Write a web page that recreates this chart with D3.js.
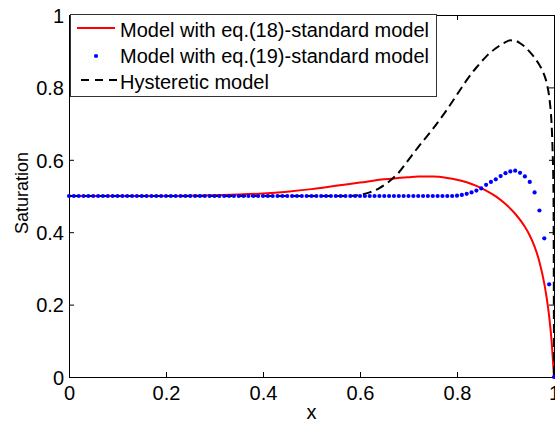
<!DOCTYPE html>
<html><head><meta charset="utf-8">
<script src="https://cdn.jsdelivr.net/npm/d3@7"></script>
<style>body{margin:0;background:#fff} svg{display:block} text{font-family:"Liberation Sans",Arial,sans-serif;fill:#000}</style>
</head><body><svg id="c" width="555" height="423"></svg>
<script>
const xTicks = [0, 0.2, 0.4, 0.6, 0.8, 1];
const yTicks = [0, 0.2, 0.4, 0.6, 0.8, 1];
const xTickLabels = ["0", "0.2", "0.4", "0.6", "0.8", "1"];
const yTickLabels = ["0", "0.2", "0.4", "0.6", "0.8", "1"];
const seriesNames = ["Model with eq.(18)-standard model", "Model with eq.(19)-standard model", "Hysteretic model"];
const xLabel = "x";
const yLabel = "Saturation";

// Model with eq.(18)-standard model (red solid)
const redX = [0, 0.1, 0.2, 0.3, 0.35, 0.4, 0.45, 0.5, 0.55, 0.6, 0.65, 0.7, 0.72, 0.75, 0.78, 0.8, 0.82, 0.84, 0.86, 0.88, 0.9, 0.92, 0.94, 0.95, 0.96, 0.97, 0.98, 0.985, 0.99, 0.995, 1];
const redY = [0.5, 0.5, 0.5, 0.502, 0.504, 0.507, 0.512, 0.519, 0.528, 0.537, 0.546, 0.552, 0.554, 0.554, 0.55, 0.545, 0.538, 0.528, 0.515, 0.499, 0.478, 0.451, 0.415, 0.391, 0.36, 0.318, 0.258, 0.218, 0.168, 0.1, 0];

// Model with eq.(19)-standard model (blue dots)
const blueX = [0,0.01,0.02,0.03,0.04,0.05,0.06,0.07,0.08,0.09,0.1,0.11,0.12,0.13,0.14,0.15,0.16,0.17,0.18,0.19,0.2,0.21,0.22,0.23,0.24,0.25,0.26,0.27,0.28,0.29,0.3,0.31,0.32,0.33,0.34,0.35,0.36,0.37,0.38,0.39,0.4,0.41,0.42,0.43,0.44,0.45,0.46,0.47,0.48,0.49,0.5,0.51,0.52,0.53,0.54,0.55,0.56,0.57,0.58,0.59,0.6,0.61,0.62,0.63,0.64,0.65,0.66,0.67,0.68,0.69,0.7,0.71,0.72,0.73,0.74,0.75,0.76,0.77,0.78,0.79,0.8,0.81,0.82,0.83,0.84,0.85,0.86,0.87,0.88,0.89,0.9,0.91,0.92,0.93,0.94,0.95,0.96,0.97,0.98,0.99,1];
const blueY = [0.5,0.5,0.5,0.5,0.5,0.5,0.5,0.5,0.5,0.5,0.5,0.5,0.5,0.5,0.5,0.5,0.5,0.5,0.5,0.5,0.5,0.5,0.5,0.5,0.5,0.5,0.5,0.5,0.5,0.5,0.5,0.5,0.5,0.5,0.5,0.5,0.5,0.5,0.5,0.5,0.5,0.5,0.5,0.5,0.5,0.5,0.5,0.5,0.5,0.5,0.5,0.5,0.5,0.5,0.5,0.5,0.5,0.5,0.5,0.5,0.5,0.5,0.5,0.5,0.5,0.5,0.5,0.5,0.5,0.5,0.5,0.5,0.5,0.5,0.5,0.5,0.5,0.5,0.5,0.5,0.501,0.503,0.506,0.51,0.515,0.521,0.531,0.539,0.546,0.555,0.563,0.568,0.57,0.564,0.554,0.539,0.51,0.46,0.383,0.256,0];

// Hysteretic model (black dashed)
const blackX = [0, 0.1, 0.2, 0.3, 0.4, 0.5, 0.58, 0.6, 0.62, 0.64, 0.66, 0.68, 0.7, 0.72, 0.75, 0.78, 0.8, 0.82, 0.84, 0.86, 0.88, 0.9, 0.91, 0.92, 0.93, 0.94, 0.95, 0.96, 0.97, 0.975, 0.98, 0.985, 0.99, 0.993, 0.995, 0.997, 0.999, 1];
const blackY = [0.5, 0.5, 0.5, 0.5, 0.5, 0.5, 0.5, 0.503, 0.51, 0.522, 0.54, 0.565, 0.6, 0.635, 0.685, 0.74, 0.78, 0.82, 0.855, 0.885, 0.908, 0.925, 0.93, 0.929, 0.922, 0.912, 0.898, 0.882, 0.862, 0.85, 0.834, 0.812, 0.775, 0.738, 0.7, 0.63, 0.5, 0];

const svg = d3.select("#c");
const m = {left: 69, right: 554, top: 15, bottom: 377};
const x = d3.scaleLinear().domain([0, 1]).range([m.left, m.right]);
const y = d3.scaleLinear().domain([0, 1]).range([m.bottom, m.top]);
const FS = 20;

// axes with inward ticks
const gB = svg.append("g").attr("transform", `translate(0,${m.bottom})`)
  .call(d3.axisBottom(x).tickValues(xTicks).tickFormat((d,i)=>xTickLabels[i]).tickSizeInner(-5).tickSizeOuter(0).tickPadding(9));
const gT = svg.append("g").attr("transform", `translate(0,${m.top})`)
  .call(d3.axisTop(x).tickValues(xTicks).tickFormat("").tickSizeInner(-5).tickSizeOuter(0));
const gL = svg.append("g").attr("transform", `translate(${m.left},0)`)
  .call(d3.axisLeft(y).tickValues(yTicks).tickFormat((d,i)=>yTickLabels[i]).tickSizeInner(-5).tickSizeOuter(0).tickPadding(5));
const gR = svg.append("g").attr("transform", `translate(${m.right},0)`)
  .call(d3.axisRight(y).tickValues(yTicks).tickFormat("").tickSizeInner(-5).tickSizeOuter(0));
[gB, gT, gL, gR].forEach(g => {
  g.select(".domain").attr("stroke", "#000").attr("stroke-width", 1);
  g.selectAll(".tick line").attr("stroke", "#000");
  g.selectAll("text").style("font-size", FS + "px").style("font-family", '"Liberation Sans",Arial,sans-serif').attr("fill", "#000");
});
gL.selectAll(".tick text").attr("dy", "0.36em");
gB.selectAll(".tick text").attr("dy", "0.71em");

// axis labels
svg.append("text").attr("x", (m.left + m.right) / 2).attr("y", 419).attr("text-anchor", "middle")
  .style("font-size", FS + "px").text(xLabel);
svg.append("text").attr("transform", `translate(28,${(m.top + m.bottom) / 2 - 3}) rotate(-90)`).attr("text-anchor", "middle")
  .style("font-size", "18px").text(yLabel);

// series
const lineRed = d3.line().x(d => x(d[0])).y(d => y(d[1])).curve(d3.curveMonotoneX);
svg.append("path").datum(redX.map((v, i) => [v, redY[i]]))
  .attr("d", lineRed).attr("fill", "none").attr("stroke", "#ff0000").attr("stroke-width", 2);

const lineBlack = d3.line().x(d => x(d[0])).y(d => y(d[1])).curve(d3.curveMonotoneX);
svg.append("path").datum(blackX.map((v, i) => [v, blackY[i]]))
  .attr("d", lineBlack).attr("fill", "none").attr("stroke", "#000").attr("stroke-width", 2).attr("stroke-dasharray", "9,5");

svg.append("g").selectAll("circle").data(blueX.map((v, i) => [v, blueY[i]])).join("circle")
  .attr("cx", d => x(d[0])).attr("cy", d => y(d[1])).attr("r", 2.1).attr("fill", "#0000ff");

// legend
const lg = svg.append("g");
lg.append("rect").attr("x", 70.5).attr("y", 14.5).attr("width", 366).attr("height", 82)
  .attr("fill", "#fff").attr("stroke", "#333").attr("stroke-width", 1);
const rows = [37, 63, 89];
lg.append("line").attr("x1", 77).attr("x2", 115).attr("y1", 28).attr("y2", 28).attr("stroke", "#ff0000").attr("stroke-width", 2);
lg.append("circle").attr("cx", 96).attr("cy", 56).attr("r", 2.1).attr("fill", "#0000ff");
lg.append("line").attr("x1", 81).attr("x2", 117).attr("y1", 80).attr("y2", 80).attr("stroke", "#000").attr("stroke-width", 2).attr("stroke-dasharray", "8,6");
seriesNames.forEach((s, i) => {
  lg.append("text").attr("x", 120).attr("y", rows[i]).style("font-size", "20px").text(s);
});
</script>
</body></html>
